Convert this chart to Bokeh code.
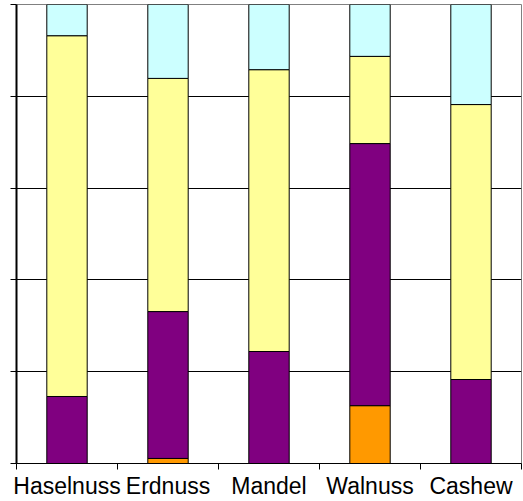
from bokeh.plotting import figure
from bokeh.models import Range1d, FixedTicker, ColumnDataSource
from bokeh.embed import file_html
from bokeh.resources import INLINE

categories = ["Haselnuss", "Erdnuss", "Mandel", "Walnuss", "Cashew"]
s1 = [0.0, 1.1, 0.0, 12.6, 0.0]        # orange
s2 = [14.6, 32.0, 24.4, 57.1, 18.3]    # purple
s3 = [78.6, 50.8, 61.4, 19.0, 59.9]    # yellow
s4 = [6.8, 16.1, 14.2, 11.3, 21.8]     # cyan
series = ["s1", "s2", "s3", "s4"]
colors = ["#FF9900", "#800080", "#FFFF99", "#CCFFFF"]
y_ticks = [0, 20, 40, 60, 80, 100]

xc = [i + 0.5 for i in range(len(categories))]
source = ColumnDataSource(dict(x=xc, s1=s1, s2=s2, s3=s3, s4=s4))

p = figure(width=523, height=501, output_backend="svg", toolbar_location=None,
           x_range=Range1d(0, len(categories)), y_range=Range1d(0, 100),
           min_border_left=16, min_border_right=2, min_border_top=4, min_border_bottom=38)
p.background_fill_color = "white"
p.border_fill_color = "white"
p.outline_line_color = "#808080"
p.outline_line_width = 1

p.vbar_stack(series, x="x", width=0.4, source=source, fill_color=colors,
             line_color="black", line_width=1)

p.xgrid.visible = False
p.ygrid.ticker = FixedTicker(ticks=y_ticks)
p.ygrid.grid_line_color = "black"
p.ygrid.grid_line_width = 1

xa = p.xaxis[0]
xa.ticker = FixedTicker(ticks=xc, minor_ticks=list(range(len(categories) + 1)))
xa.major_label_overrides = {x: c for x, c in zip(xc, categories)}
xa.major_tick_out = 0
xa.major_tick_in = 0
xa.minor_tick_out = 6
xa.minor_tick_in = 0
xa.minor_tick_line_color = "black"
xa.axis_line_color = "black"
xa.axis_line_width = 1
xa.major_label_text_font = "Liberation Sans"
xa.major_label_text_font_size = "23px"
xa.major_label_text_color = "black"
xa.major_label_standoff = 3

ya = p.yaxis[0]
ya.ticker = FixedTicker(ticks=y_ticks)
ya.major_label_overrides = {t: "" for t in y_ticks}
ya.major_label_text_font_size = "10px"
ya.major_label_standoff = 0
ya.major_tick_out = 6
ya.major_tick_in = 0
ya.minor_tick_out = 0
ya.minor_tick_in = 0
ya.axis_line_color = "black"
ya.axis_line_width = 2
ya.major_tick_line_color = "black"

open("out.html", "w").write(file_html(p, INLINE))
